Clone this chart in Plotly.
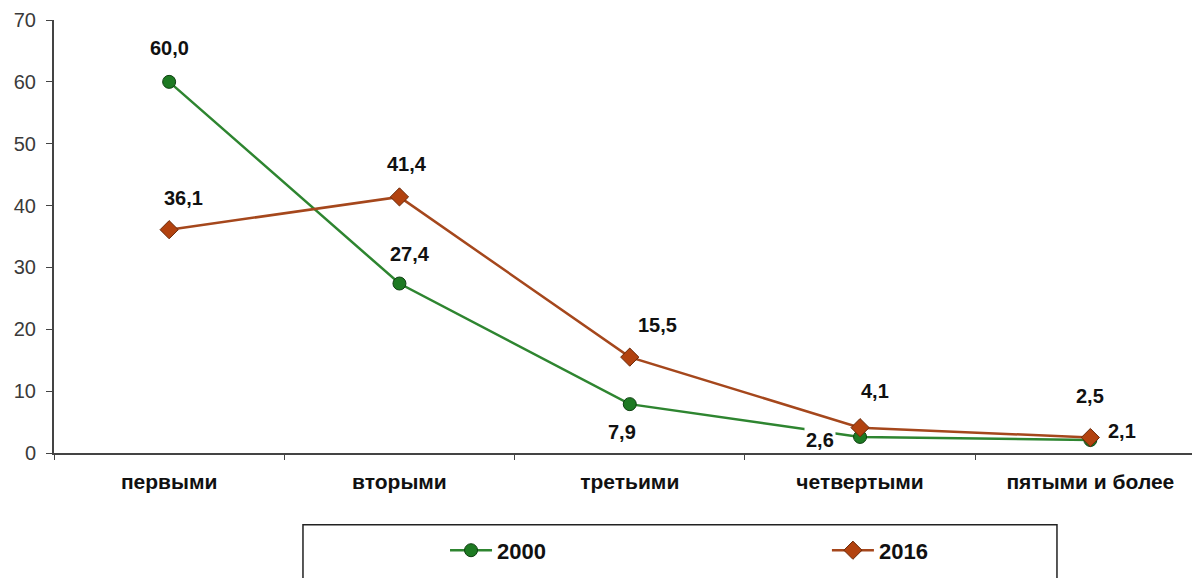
import plotly.graph_objects as go

categories = ["первыми", "вторыми", "третьими", "четвертыми", "пятыми и более"]
values_2000 = [60.0, 27.4, 7.9, 2.6, 2.1]
values_2016 = [36.1, 41.4, 15.5, 4.1, 2.5]
y_ticks = [0, 10, 20, 30, 40, 50, 60, 70]

# label offsets in pixels (right, down) per point
offsets_2000 = [(0, -34), (11, -30), (-8, 28), (-40, 3), (32, -9)]
offsets_2016 = [(14, -32), (8, -33), (28, -32), (15, -37), (0, -42)]


def fmt(v):
    return f"{v:.1f}".replace(".", ",")


fig = go.Figure()

fig.add_trace(
    go.Scatter(
        x=categories,
        y=values_2000,
        mode="lines+markers",
        name="2000",
        legend="legend",
        line=dict(color="#2e8530", width=2.5),
        marker=dict(symbol="circle", size=13, color="#1d7a22", line=dict(color="#0d3f10", width=1)),
    )
)

fig.add_trace(
    go.Scatter(
        x=categories,
        y=values_2016,
        mode="lines+markers",
        name="2016",
        legend="legend2",
        line=dict(color="#a5471c", width=2.5),
        marker=dict(symbol="diamond", size=14, color="#b2420f", line=dict(color="#6a2a0a", width=1)),
    )
)

label_font = dict(family="Liberation Sans", size=20, color="#111111", weight="bold")

for cat, v, (dx, dy) in zip(categories, values_2000, offsets_2000):
    fig.add_annotation(
        x=cat, y=v, text=fmt(v), showarrow=False,
        xshift=dx, yshift=-dy, font=label_font, bgcolor="white",
    )

for cat, v, (dx, dy) in zip(categories, values_2016, offsets_2016):
    fig.add_annotation(
        x=cat, y=v, text=fmt(v), showarrow=False,
        xshift=dx, yshift=-dy, font=label_font,
    )

# legend frame
fig.add_shape(
    type="rect", xref="paper", yref="paper",
    x0=0.2184, x1=0.8798, y0=-0.40, y1=-0.1655,
    line=dict(color="#222222", width=1.5), fillcolor="rgba(0,0,0,0)",
)

legend_style = dict(
    orientation="h",
    xanchor="left",
    y=-0.225,
    yanchor="middle",
    itemwidth=42,
    font=dict(family="Liberation Sans", size=22, color="#111111", weight="bold"),
    bgcolor="rgba(0,0,0,0)",
    borderwidth=0,
)

# page body adds an 8px margin, so the figure is sized to fill the rest
fig.update_layout(
    width=1192,
    height=570,
    margin=dict(l=46, r=6, t=12, b=123),
    plot_bgcolor="white",
    paper_bgcolor="white",
    font=dict(family="Liberation Sans"),
    showlegend=True,
    legend=dict(x=0.343, **legend_style),
    legend2=dict(x=0.678, **legend_style),
    xaxis=dict(
        type="category",
        range=[-0.5, 4.45],
        automargin=False,
        showgrid=False,
        showline=True,
        linecolor="#444444",
        linewidth=2,
        ticks="outside",
        tickson="boundaries",
        ticklen=5,
        tickcolor="#444444",
        tickfont=dict(family="Liberation Sans", size=21, color="#111111", weight="bold"),
        ticklabelstandoff=9,
    ),
    yaxis=dict(
        range=[0, 70],
        tickvals=y_ticks,
        automargin=False,
        showgrid=False,
        zeroline=False,
        showline=True,
        linecolor="#444444",
        linewidth=2,
        ticks="outside",
        ticklen=6,
        tickcolor="#444444",
        tickfont=dict(family="Liberation Sans", size=20, color="#3a3a3a"),
        ticklabelstandoff=6,
    ),
)

fig.write_html("out.html")
